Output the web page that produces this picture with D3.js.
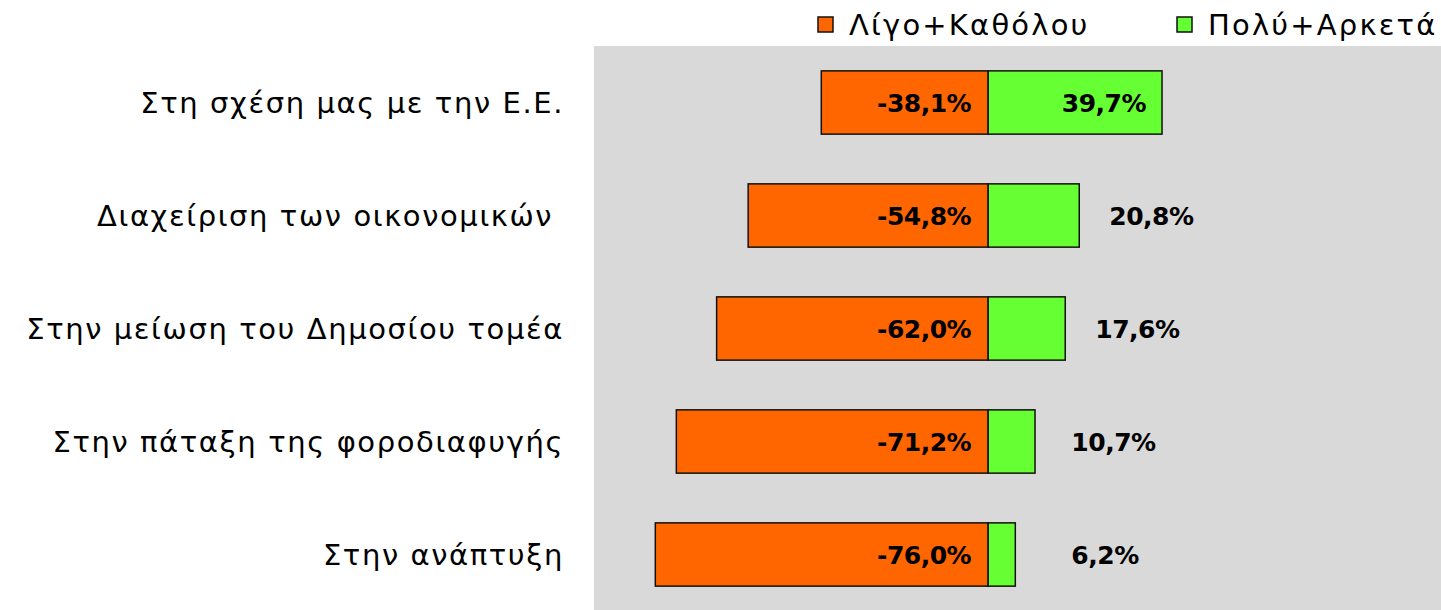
<!DOCTYPE html>
<html>
<head>
<meta charset="utf-8">
<script src="https://cdn.jsdelivr.net/npm/d3@7"></script>
<style>
  body { margin: 0; background: #fff; }
  text { font-family: "DejaVu Sans", "Noto Sans", sans-serif; white-space: pre; }
</style>
</head>
<body>
<div id="chart-area"></div>
<script>
// data
const categories = [
    "Στη σχέση μας με την Ε.Ε.",
    "Διαχείριση των οικονομικών ",
    "Στην μείωση του Δημοσίου τομέα",
    "Στην πάταξη της φοροδιαφυγής",
    "Στην ανάπτυξη"
];
const negValues = [-38.1, -54.8, -62.0, -71.2, -76.0];   // Λίγο+Καθόλου
const posValues = [39.7, 20.8, 17.6, 10.7, 6.2];         // Πολύ+Αρκετά
const seriesNames = ["Λίγο+Καθόλου", "Πολύ+Αρκετά"];
const seriesColors = ["#FF6600", "#66FF33"];

const WIDTH = 1441, HEIGHT = 610;
const PLOT = {LEFT: 594, RIGHT: 1441, TOP: 46, BOTTOM: 611};

// greek style: comma decimal, plain hyphen for minus
const locale = d3.formatLocale({decimal: ",", thousands: ".", grouping: [3], currency: ["", "€"], minus: "-"});
const fmt = v => locale.format(".1f")(v) + "%";

const svg = d3.select("#chart-area").append("svg")
    .attr("width", WIDTH)
    .attr("height", HEIGHT);

const xScale = d3.scaleLinear()
    .domain([-90, 103.4])
    .range([PLOT.LEFT, PLOT.RIGHT]);

const yScale = d3.scaleBand()
    .domain(categories)
    .range([PLOT.TOP, PLOT.BOTTOM])
    .paddingInner(0.44)
    .paddingOuter(0.22);

// plot background
svg.append("rect")
    .attr("x", PLOT.LEFT)
    .attr("y", PLOT.TOP)
    .attr("width", PLOT.RIGHT - PLOT.LEFT)
    .attr("height", HEIGHT - PLOT.TOP)
    .attr("fill", "#D9D9D9");

const rows = categories.map((c, i) => ({cat: c, neg: negValues[i], pos: posValues[i]}));

// negative bars
svg.append("g").selectAll("rect")
    .data(rows)
    .join("rect")
    .attr("x", d => xScale(d.neg))
    .attr("y", d => yScale(d.cat))
    .attr("width", d => xScale(0) - xScale(d.neg))
    .attr("height", yScale.bandwidth())
    .attr("fill", seriesColors[0])
    .attr("stroke", "#111")
    .attr("stroke-width", 1.5);

// positive bars
svg.append("g").selectAll("rect")
    .data(rows)
    .join("rect")
    .attr("x", xScale(0))
    .attr("y", d => yScale(d.cat))
    .attr("width", d => xScale(d.pos) - xScale(0))
    .attr("height", yScale.bandwidth())
    .attr("fill", seriesColors[1])
    .attr("stroke", "#111")
    .attr("stroke-width", 1.5);

// value labels
const mid = d => yScale(d.cat) + yScale.bandwidth() / 2;

svg.append("g").selectAll("text")
    .data(rows)
    .join("text")
    .attr("x", xScale(0) - 17)
    .attr("y", mid)
    .attr("dy", "0.36em")
    .attr("text-anchor", "end")
    .attr("font-size", 25)
    .attr("font-weight", "bold")
    .attr("letter-spacing", -0.5)
    .text(d => fmt(d.neg));

// wide bars keep their label inside, the rest sit outside (not nearer than 19%)
svg.append("g").selectAll("text")
    .data(rows)
    .join("text")
    .attr("x", d => d.pos > 30 ? xScale(d.pos) - 16 : Math.max(xScale(d.pos) + 30, xScale(19)))
    .attr("y", mid)
    .attr("dy", "0.36em")
    .attr("text-anchor", d => d.pos > 30 ? "end" : "start")
    .attr("font-size", 25)
    .attr("font-weight", "bold")
    .attr("letter-spacing", -0.5)
    .text(d => fmt(d.pos));

// category labels
svg.append("g").selectAll("text")
    .data(categories)
    .join("text")
    .attr("x", 564)
    .attr("y", d => yScale(d) + yScale.bandwidth() / 2)
    .attr("dy", "0.36em")
    .attr("text-anchor", "end")
    .attr("font-size", 29)
    .attr("letter-spacing", 1.6)
    .attr("fill", "#000")
    .text(d => d);

// legend
const legendX = [818, 1177];
const legend = svg.append("g").selectAll("g")
    .data(seriesNames)
    .join("g")
    .attr("transform", (d, i) => `translate(${legendX[i]}, 17)`);

legend.append("rect")
    .attr("width", 15)
    .attr("height", 15)
    .attr("fill", (d, i) => seriesColors[i])
    .attr("stroke", "#111")
    .attr("stroke-width", 1.5);

legend.append("text")
    .attr("x", 31)
    .attr("y", 8)
    .attr("dy", "0.36em")
    .attr("font-size", 29)
    .attr("letter-spacing", 2.2)
    .text(d => d);
</script>
</body>
</html>
